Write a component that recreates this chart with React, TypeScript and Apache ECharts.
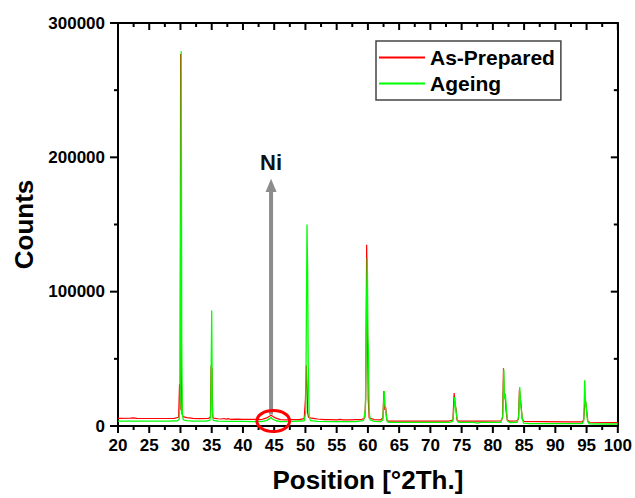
import React, { useEffect, useRef } from "react";
import * as echarts from "echarts";

// ---- Data (2θ in degrees, counts) ----
const seriesNames = ["As-Prepared", "Ageing"];

const asPrepared: [number, number][] = [
  [20, 5700], [22, 5800], [22.5, 6000], [23, 5700], [25, 5600], [27, 5600], [29, 5700],
  [29.7, 6500], [29.85, 31000], [29.95, 12000], [30.02, 277000], [30.12, 40000], [30.25, 9000],
  [30.4, 7000], [31, 6200], [32, 5700], [33, 5500], [34.5, 5600], [34.8, 7000], [34.9, 45000],
  [34.95, 20000], [35.05, 43000], [35.15, 7000], [35.3, 5800], [36, 5400], [36.5, 5200],
  [37, 5600], [37.3, 5000], [37.6, 5500], [38, 5000], [39, 5100], [40, 5000], [41, 4900],
  [42, 4900], [43, 4800], [43.8, 6000], [44.5, 8000], [45.2, 6000], [46, 4700], [47, 4600],
  [48, 4700], [49, 4700], [49.8, 5500], [50.0, 20000], [50.15, 45000], [50.25, 30000],
  [50.35, 10000], [50.5, 6500], [51, 5800], [51.5, 5500], [52, 5200], [53, 4800], [54, 4700],
  [55, 4600], [55.5, 4900], [56, 4600], [57, 4600], [58, 4700], [59, 4800], [59.5, 6000],
  [59.65, 21000], [59.8, 135000], [59.95, 67000], [60.05, 20000], [60.2, 6000], [61, 4800],
  [62, 4500], [62.4, 6000], [62.55, 26000], [62.7, 12000], [62.85, 14000], [63.0, 5000],
  [63.2, 3700], [65, 3700], [70, 3700], [73, 3700], [73.6, 4500], [73.8, 24500], [73.95, 16000],
  [74.1, 13000], [74.25, 4500], [74.5, 3700], [78, 3700], [81.3, 3800], [81.55, 6000],
  [81.7, 43000], [81.8, 21000], [81.95, 24000], [82.1, 12000], [82.3, 4500], [82.6, 3700],
  [83.8, 3800], [84.1, 5000], [84.25, 27000], [84.4, 20000], [84.55, 14000], [84.7, 5000],
  [85, 3500], [88, 3300], [92, 3000], [94.3, 3000], [94.55, 5000], [94.65, 13000],
  [94.8, 20000], [94.9, 16000], [95.05, 10000], [95.2, 3500], [95.5, 2800], [98, 2600],
  [100, 2500],
];

const ageing: [number, number][] = [
  [20, 3700], [22, 3700], [24, 3600], [26, 3700], [28, 3600], [29.5, 3900], [29.8, 5000],
  [29.95, 20000], [30.12, 279000], [30.2, 62000], [30.3, 9000], [30.45, 4500], [31, 4000],
  [32, 3700], [34, 3600], [34.7, 4200], [34.85, 8000], [35.0, 86000], [35.1, 12000],
  [35.25, 4200], [36, 3600], [38, 3500], [40, 3400], [42, 3300], [43, 3300], [43.8, 4200],
  [44.3, 5500], [44.5, 6500], [44.7, 5200], [45.3, 3900], [46, 3300], [48, 3400], [49.8, 3900],
  [50.05, 10000], [50.25, 150000], [50.35, 116000], [50.45, 45000], [50.6, 7000], [50.8, 4000],
  [52, 3500], [55, 3300], [58, 3300], [59.3, 4000], [59.6, 12000], [59.8, 100000],
  [59.9, 125000], [60.0, 67000], [60.1, 54000], [60.2, 12000], [60.35, 4500], [61, 3400],
  [62, 3200], [62.4, 4500], [62.6, 26000], [62.75, 15000], [62.9, 9000], [63.1, 3000],
  [63.4, 2700], [68, 2700], [73, 2700], [73.6, 3500], [73.8, 15000], [73.9, 21500],
  [74.05, 13000], [74.2, 8000], [74.35, 3200], [74.6, 2700], [77, 2700], [77.5, 2200],
  [78, 2700], [81.3, 2800], [81.6, 8000], [81.75, 42000], [81.85, 20000], [82.0, 24000],
  [82.15, 14000], [82.35, 3500], [82.7, 2600], [83.9, 2800], [84.15, 8000], [84.3, 29000],
  [84.45, 16000], [84.55, 16000], [84.7, 6000], [84.9, 2200], [86, 1700], [90, 1700],
  [94.3, 1800], [94.55, 4000], [94.7, 34000], [94.85, 15000], [94.9, 18000], [95.0, 11000],
  [95.15, 4000], [95.4, 1600], [98, 1500], [100, 1500],
];

// ---- Ticks ----
const xMajorTicks = [20, 25, 30, 35, 40, 45, 50, 55, 60, 65, 70, 75, 80, 85, 90, 95, 100];
const xMinorTicks = [22.5, 27.5, 32.5, 37.5, 42.5, 47.5, 52.5, 57.5, 62.5, 67.5, 72.5, 77.5, 82.5, 87.5, 92.5, 97.5];
const yMajorTicks = [0, 100000, 200000, 300000];
const yMinorTicks = [50000, 150000, 250000];

// ---- Annotation anchors (data coords) ----
const niLabel = "Ni";
const niPosition = 44.5;
const arrowBottom = 8500;
const arrowHeadBase = 175000;
const arrowTip = 184000;
const niLabelY = 196000;
const circleCenter: [number, number] = [44.85, 3700];
const circleHalfWidth = 2.62; // degrees
const circleHalfHeight = 7800; // counts

const FONT = 'Arial, "Liberation Sans", Helvetica, sans-serif';

export default function App() {
  const ref = useRef<HTMLDivElement>(null);

  useEffect(() => {
    if (!ref.current) return;
    const chart = echarts.init(ref.current, undefined, { renderer: "svg" });

    const xMin = xMajorTicks[0];
    const xMax = xMajorTicks[xMajorTicks.length - 1];
    const yMin = yMajorTicks[0];
    const yMax = yMajorTicks[yMajorTicks.length - 1];
    const axisLine = { show: true, onZero: false, lineStyle: { color: "#000", width: 2 } };
    const noTicks = { axisTick: { show: false }, minorTick: { show: false }, splitLine: { show: false } };

    chart.setOption({
      animation: false,
      backgroundColor: "#fff",
      grid: { left: 118, right: 13, top: 23, bottom: 70, containLabel: false },
      legend: {
        orient: "vertical",
        left: 376,
        top: 41,
        padding: [6, 6, 6, 3],
        itemGap: 5,
        itemWidth: 46,
        itemHeight: 2,
        icon: "rect",
        borderColor: "#444",
        borderWidth: 1.5,
        data: seriesNames,
        textStyle: { fontFamily: FONT, fontWeight: "bold", fontSize: 21, color: "#000", lineHeight: 21 },
      },
      xAxis: [
        {
          type: "value",
          min: xMin,
          max: xMax,
          interval: 5,
          position: "bottom",
          axisLine,
          ...noTicks,
          axisLabel: {
            margin: 11,
            fontFamily: FONT,
            fontWeight: "bold",
            fontSize: 17,
            color: "#000",
            formatter: (v: number) => String(v),
          },
          name: "Position [°2Th.]",
          nameLocation: "middle",
          nameGap: 41,
          nameTextStyle: { fontFamily: FONT, fontWeight: "bold", fontSize: 26, color: "#000" },
        },
        {
          type: "value",
          min: xMin,
          max: xMax,
          interval: 5,
          position: "top",
          axisLine,
          ...noTicks,
          axisLabel: { show: false },
        },
      ],
      yAxis: [
        {
          type: "value",
          min: yMin,
          max: yMax,
          interval: 100000,
          position: "left",
          axisLine,
          ...noTicks,
          axisLabel: {
            margin: 13,
            fontFamily: FONT,
            fontWeight: "bold",
            fontSize: 17,
            color: "#000",
            formatter: (v: number) => String(v),
          },
          name: "Counts",
          nameLocation: "middle",
          nameGap: 78,
          nameRotate: 90,
          nameTextStyle: { fontFamily: FONT, fontWeight: "bold", fontSize: 26, color: "#000" },
        },
        {
          type: "value",
          min: yMin,
          max: yMax,
          interval: 100000,
          position: "right",
          axisLine,
          ...noTicks,
          axisLabel: { show: false },
        },
      ],
      series: [
        {
          name: seriesNames[0],
          type: "line",
          xAxisIndex: 0,
          yAxisIndex: 0,
          data: asPrepared,
          symbol: "none",
          color: "#ff0000",
          lineStyle: { color: "#ff0000", width: 1.2 },
        },
        {
          name: seriesNames[1],
          type: "line",
          xAxisIndex: 0,
          yAxisIndex: 0,
          data: ageing,
          symbol: "none",
          color: "#00ff00",
          lineStyle: { color: "#00ff00", width: 1.3 },
        },
      ],
    });

    const px = (p: [number, number]) =>
      chart.convertToPixel({ xAxisIndex: 0, yAxisIndex: 0 }, p) as number[];

    // tick marks (frame: bottom/left outward, top/right inward)
    const yBottom = px([xMin, yMin])[1];
    const yTop = px([xMin, yMax])[1];
    const xLeft = px([xMin, yMin])[0];
    const xRight = px([xMax, yMin])[0];
    const tickStyle = { stroke: "#000", lineWidth: 2 };
    const tickEls: any[] = [];
    const addLine = (x1: number, y1: number, x2: number, y2: number) =>
      tickEls.push({ type: "line", shape: { x1, y1, x2, y2 }, style: tickStyle, z: 90, silent: true });
    xMajorTicks.forEach((v) => {
      const x = px([v, yMin])[0];
      addLine(x, yBottom, x, yBottom + 7);
      addLine(x, yTop, x, yTop + 7);
    });
    xMinorTicks.forEach((v) => {
      const x = px([v, yMin])[0];
      addLine(x, yBottom, x, yBottom + 4);
      addLine(x, yTop, x, yTop + 4);
    });
    yMajorTicks.forEach((v) => {
      const y = px([xMin, v])[1];
      addLine(xLeft - 8, y, xLeft, y);
      addLine(xRight - 7, y, xRight, y);
    });
    yMinorTicks.forEach((v) => {
      const y = px([xMin, v])[1];
      addLine(xLeft - 4, y, xLeft, y);
      addLine(xRight - 4, y, xRight, y);
    });

    const bottom = px([niPosition, arrowBottom]);
    const headBase = px([niPosition, arrowHeadBase]);
    const tip = px([niPosition, arrowTip]);
    const lbl = px([niPosition, niLabelY]);
    const cc = px(circleCenter);
    const ce = px([circleCenter[0] + circleHalfWidth, circleCenter[1] + circleHalfHeight]);

    chart.setOption({
      graphic: [
        ...tickEls,
        {
          type: "rect",
          shape: { x: bottom[0] - 2, y: headBase[1], width: 4, height: bottom[1] - headBase[1] },
          style: { fill: "#8c8c8c" },
          z: 100,
        },
        {
          type: "polygon",
          shape: {
            points: [
              [tip[0], tip[1]],
              [tip[0] - 5.5, headBase[1] + 1],
              [tip[0] + 5.5, headBase[1] + 1],
            ],
          },
          style: { fill: "#8c8c8c" },
          z: 100,
        },
        {
          type: "text",
          x: lbl[0],
          y: lbl[1],
          style: {
            text: niLabel,
            fontFamily: FONT,
            fontWeight: "bold",
            fontSize: 22,
            fill: "#111",
            align: "center",
            verticalAlign: "middle",
          },
          z: 100,
        },
        {
          type: "ellipse",
          shape: { cx: cc[0], cy: cc[1], rx: ce[0] - cc[0], ry: cc[1] - ce[1] },
          style: { fill: "none", stroke: "#ff0000", lineWidth: 3 },
          z: 101,
        },
      ],
    });

    return () => chart.dispose();
  }, []);

  return (
    <div
      ref={ref}
      style={{ position: "fixed", left: 0, top: 0, width: 635, height: 498, background: "#fff" }}
    />
  );
}
